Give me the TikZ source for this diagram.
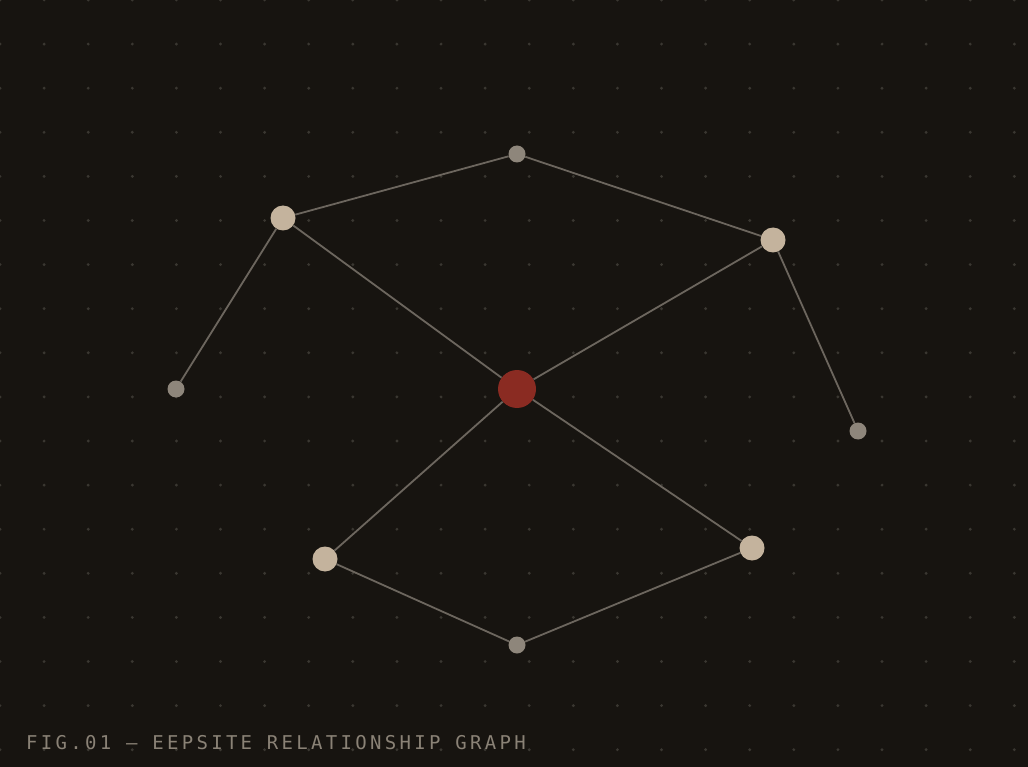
\documentclass[tikz,border=0pt]{standalone}
\usepackage{fontspec}
\usepackage{xcolor}
\usepackage{tikz}
\usetikzlibrary{positioning}

\newfontfamily\capfont[LetterSpace=17.4]{DejaVu Sans Mono}

\definecolor{bgdark}{RGB}{23,20,16}
\definecolor{griddot}{RGB}{58,55,49}
\definecolor{edgegray}{RGB}{108,102,94}
\definecolor{hubred}{RGB}{138,43,34}
\definecolor{peerbeige}{RGB}{196,179,157}
\definecolor{leafgray}{RGB}{142,134,123}
\definecolor{captiongray}{RGB}{138,130,118}

\begin{document}
\begin{tikzpicture}[x=1pt, y=-1pt,
    hub/.style={circle, fill=hubred, inner sep=0pt, minimum size=38pt},
    peer/.style={circle, fill=peerbeige, inner sep=0pt, minimum size=25pt},
    leaf/.style={circle, fill=leafgray, inner sep=0pt, minimum size=17pt},
    link/.style={draw=edgegray, line width=1.8pt}
  ]
  % Background and dot grid
  \fill[bgdark] (0,0) rectangle (1028,767);
  \useasboundingbox (0,0) rectangle (1028,767);
  \foreach \i in {0,...,23}
    \foreach \j in {0,...,17}
      \fill[griddot] (44.1*\i,44.1*\j) circle (1.6pt);
  % Nodes
  \node[hub]  (center) at (517,389) {};
  \node[peer] (nw)     at (283,218) {};
  \node[peer] (ne)     at (773,240) {};
  \node[peer] (sw)     at (325,559) {};
  \node[peer] (se)     at (752,548) {};
  \node[leaf] (top)    at (517,154) {};
  \node[leaf] (west)   at (176,389) {};
  \node[leaf] (east)   at (858,431) {};
  \node[leaf] (bottom) at (517,645) {};
  % Links
  \draw[link] (nw) -- (top) -- (ne);
  \draw[link] (nw) -- (west);
  \draw[link] (ne) -- (east);
  \draw[link] (center) -- (nw);
  \draw[link] (center) -- (ne);
  \draw[link] (center) -- (sw);
  \draw[link] (center) -- (se);
  \draw[link] (sw) -- (bottom) -- (se);
  % Caption
  \node[anchor=base west, inner sep=0pt, text=captiongray, font=\capfont\fontsize{19}{19}\selectfont] (caption) at (26,749) {FIG.01 — EEPSITE RELATIONSHIP GRAPH};
\end{tikzpicture}
\end{document}
